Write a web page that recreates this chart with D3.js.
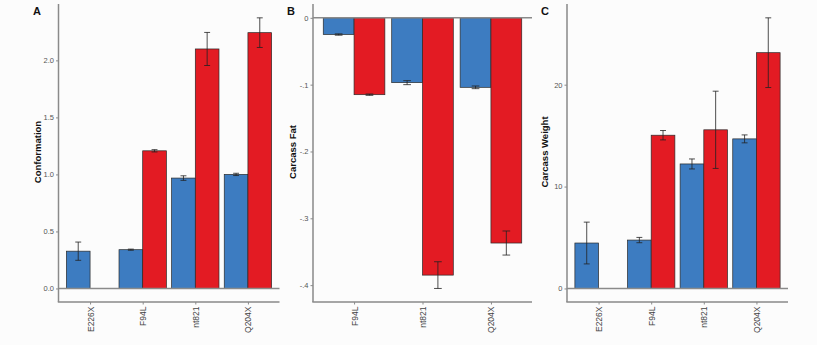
<!DOCTYPE html>
<html><head><meta charset="utf-8">
<script src="https://cdn.jsdelivr.net/npm/d3@7/dist/d3.min.js"></script>
<style>
html,body{margin:0;padding:0;background:#fcfcfc;}
svg{display:block;font-family:"Liberation Sans",Arial,sans-serif;}
</style></head><body>
<svg id="chart" width="817" height="345"></svg>
<script>
// ---- data ----
const catsA = ["E226X","F94L","nt821","Q204X"];
const blueA = [0.327, 0.340, 0.968, 1.000];
const blueAErr = [0.080, 0.005, 0.020, 0.010];
const redA = [null, 1.207, 2.100, 2.243];
const redAErr = [null, 0.010, 0.145, 0.130];
const ticksA = [0, 0.5, 1.0, 1.5, 2.0];
const tickLabelsA = ["0.0","0.5","1.0","1.5","2.0"];

const catsB = ["F94L","nt821","Q204X"];
const blueB = [-0.025, -0.097, -0.104];
const blueBErr = [0.001, 0.003, 0.002];
const redB = [-0.115, -0.385, -0.337];
const redBErr = [0.001, 0.020, 0.018];
const ticksB = [0, -0.1, -0.2, -0.3, -0.4];
const tickLabelsB = ["0","-.1","-.2","-.3","-.4"];

const catsC = ["E226X","F94L","nt821","Q204X"];
const blueC = [4.46, 4.75, 12.22, 14.68];
const blueCErr = [2.05, 0.26, 0.49, 0.39];
const redC = [null, 15.04, 15.57, 23.14];
const redCErr = [null, 0.46, 3.79, 3.42];
const ticksC = [0, 10, 20];
const tickLabelsC = ["0","10","20"];

const BLUE = "#3d7cc1", RED = "#e31b23";

const svg = d3.select("#chart");

function panel(cfg){
  const g = svg.append("g");
  const n = cfg.cats.length;
  const x = d3.scaleLinear().domain([0.4, n + 0.6]).range([cfg.x0, cfg.x1]);
  const vals = [0];
  cfg.blue.forEach((v,i)=>{ if(v!=null){ vals.push(v+cfg.blueErr[i], v-cfg.blueErr[i]); }});
  cfg.red.forEach((v,i)=>{ if(v!=null){ vals.push(v+cfg.redErr[i], v-cfg.redErr[i]); }});
  let lo = d3.min(vals), hi = d3.max(vals), pad = (hi-lo)*0.05;
  const y = d3.scaleLinear().domain([lo-pad, hi+pad]).range([302, 4.3]);

  // bars
  const series = [
    {vals: cfg.blue, err: cfg.blueErr, off: -0.45, color: BLUE},
    {vals: cfg.red, err: cfg.redErr, off: 0, color: RED}
  ];
  series.forEach(s=>{
    const data = s.vals.map((v,i)=>({v, e:s.err[i], i})).filter(d=>d.v!=null);
    g.selectAll(null).data(data).enter().append("rect")
      .attr("x", d=>x(d.i+1+s.off))
      .attr("width", d=>x(d.i+1+s.off+0.45)-x(d.i+1+s.off))
      .attr("y", d=>Math.min(y(d.v), y(0)))
      .attr("height", d=>Math.abs(y(d.v)-y(0)))
      .attr("fill", s.color).attr("stroke", "#2a2a2a").attr("stroke-width", 0.7);
  });
  // zero line
  g.append("line").attr("x1", cfg.x0).attr("x2", cfg.x1).attr("y1", y(0)).attr("y2", y(0))
    .attr("stroke", "#8a8a8a").attr("stroke-width", 1.5);
  // error bars
  series.forEach(s=>{
    const data = s.vals.map((v,i)=>({v, e:s.err[i], i})).filter(d=>d.v!=null);
    const cx = d=>x(d.i+1+s.off+0.225);
    const cw = (x(1.1125)-x(1));
    const eg = g.selectAll(null).data(data).enter().append("g")
      .attr("stroke", "#222").attr("stroke-width", 0.8);
    eg.append("line").attr("x1", cx).attr("x2", cx).attr("y1", d=>y(d.v+d.e)).attr("y2", d=>y(d.v-d.e));
    eg.append("line").attr("x1", d=>cx(d)-cw/2).attr("x2", d=>cx(d)+cw/2).attr("y1", d=>y(d.v+d.e)).attr("y2", d=>y(d.v+d.e));
    eg.append("line").attr("x1", d=>cx(d)-cw/2).attr("x2", d=>cx(d)+cw/2).attr("y1", d=>y(d.v-d.e)).attr("y2", d=>y(d.v-d.e));
  });

  // y axis
  const ya = d3.axisLeft(y).tickValues(cfg.ticks).tickSize(2.5).tickPadding(2)
    .tickFormat((d,i)=>cfg.tickLabels[i]);
  const yg = g.append("g").attr("transform", `translate(${cfg.x0},0)`).call(ya);
  yg.select(".domain").attr("stroke", "#8a8a8a").attr("stroke-width", 1.5).attr("d", `M0,${y.range()[1]-0.3}V302`);
  yg.selectAll(".tick line").attr("stroke", "#8a8a8a");
  yg.selectAll(".tick text").attr("fill", "#555").attr("font-size", 7.5);

  // x axis
  const xa = d3.axisBottom(x).tickValues(d3.range(1, n+1)).tickSize(2.5).tickPadding(2)
    .tickFormat((d,i)=>cfg.cats[i]);
  const xg = g.append("g").attr("transform", "translate(0,302)").call(xa);
  xg.select(".domain").attr("stroke", "#8a8a8a").attr("stroke-width", 1.5).attr("d", `M${cfg.x0-0.7},0H${cfg.x1}`);
  xg.selectAll(".tick line").attr("stroke", "#8a8a8a");
  xg.selectAll(".tick text").attr("fill", "#444").attr("font-size", 8.5)
    .attr("transform", "rotate(-90)").attr("text-anchor", "end")
    .attr("x", -4.5).attr("y", 0).attr("dy", "0.35em");

  // titles
  g.append("text").attr("transform", `translate(${cfg.titleX},152) rotate(-90)`)
    .attr("text-anchor", "middle").attr("font-weight", "bold").attr("font-size", 9.5)
    .attr("fill", "#111").text(cfg.title);
  g.append("text").attr("x", cfg.letterX).attr("y", 15)
    .attr("font-weight", "bold").attr("font-size", 11).attr("fill", "#111").text(cfg.letter);
}

panel({cats: catsA, blue: blueA, blueErr: blueAErr, red: redA, redErr: redAErr,
  ticks: ticksA, tickLabels: tickLabelsA, x0: 58.5, x1: 279.5, title: "Conformation", titleX: 41, letter: "A", letterX: 33});
panel({cats: catsB, blue: blueB, blueErr: blueBErr, red: redB, redErr: redBErr,
  ticks: ticksB, tickLabels: tickLabelsB, x0: 313, x1: 532, title: "Carcass Fat", titleX: 296, letter: "B", letterX: 287});
panel({cats: catsC, blue: blueC, blueErr: blueCErr, red: redC, redErr: redCErr,
  ticks: ticksC, tickLabels: tickLabelsC, x0: 567, x1: 788, title: "Carcass Weight", titleX: 548, letter: "C", letterX: 541});
</script>
</body></html>
